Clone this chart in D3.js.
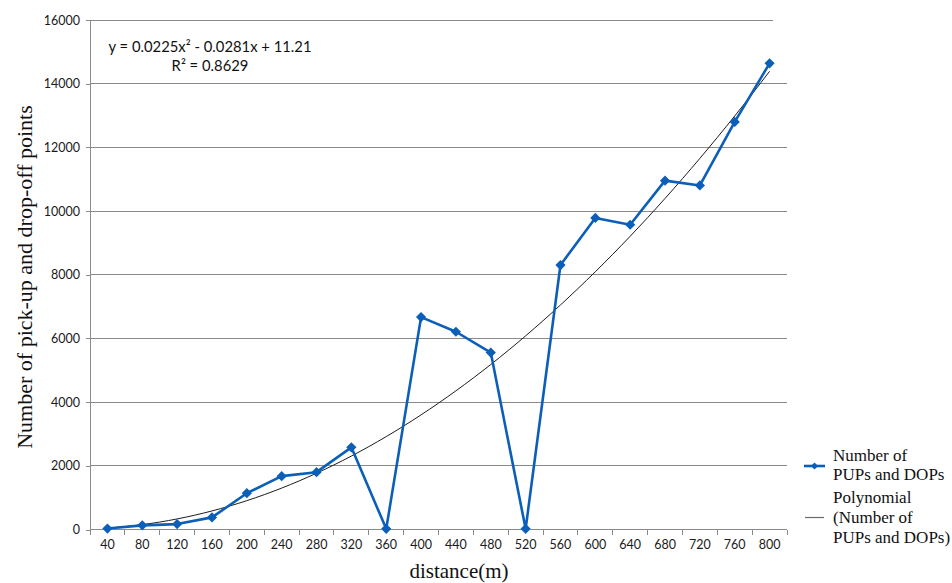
<!DOCTYPE html>
<html>
<head>
<meta charset="utf-8">
<script src="https://cdn.jsdelivr.net/npm/d3@7"></script>
<style>
  html, body { margin: 0; padding: 0; background: #fff; }
  svg { display: block; }
</style>
</head>
<body>
<svg id="chart" width="952" height="583"></svg>
<script>
// Distance bands (m) and number of pick-up / drop-off points per band
const distances = [40, 80, 120, 160, 200, 240, 280, 320, 360, 400, 440, 480, 520, 560, 600, 640, 680, 720, 760, 800];
const pupDopCounts = [30, 130, 170, 380, 1140, 1675, 1800, 2580, 20, 6670, 6210, 5555, 20, 8305, 9785, 9570, 10955, 10805, 12800, 14640];
// Second-order polynomial trend: y = c2*x^2 + c1*x + c0
const trendCoefficients = [11.21, -0.0281, 0.0225];
const yTicks = [0, 2000, 4000, 6000, 8000, 10000, 12000, 14000, 16000];
const equationLines = ["y = 0.0225x\u00B2 - 0.0281x + 11.21", "R\u00B2 = 0.8629"];

const svg = d3.select("#chart");
const margin = { left: 90, right: 165, top: 20, bottom: 53.5 };
const W = 952, H = 583;
const plotW = W - margin.left - margin.right;
const plotH = H - margin.top - margin.bottom;

const sansFont = "Lato, 'Open Sans', sans-serif";
const serifFont = "'Liberation Serif', 'DejaVu Serif', serif";
const blue = "#0b5fb8";
const gridColor = "#8a8a8a";

const x = d3.scaleBand().domain(distances).range([0, plotW]);
const y = d3.scaleLinear().domain([0, 16000]).range([plotH, 0]);

const g = svg.append("g").attr("transform", `translate(${margin.left},${margin.top})`);

// Horizontal gridlines (the top one stops a little short of the right edge)
g.append("g")
  .selectAll("line")
  .data(yTicks.filter(d => d > 0))
  .join("line")
  .attr("x1", 0).attr("x2", d => d === yTicks[yTicks.length - 1] ? plotW - x.bandwidth() * 0.4 : plotW)
  .attr("y1", d => y(d)).attr("y2", d => y(d))
  .attr("stroke", gridColor).attr("stroke-width", 1)
  .attr("shape-rendering", "crispEdges");

// Y axis
const yAxis = g.append("g")
  .call(d3.axisLeft(y).tickValues(yTicks).tickSize(4).tickPadding(6).tickFormat(d3.format("d")));
yAxis.select(".domain").attr("stroke", gridColor).attr("shape-rendering", "crispEdges");
yAxis.selectAll(".tick line").attr("stroke", gridColor).attr("shape-rendering", "crispEdges");
yAxis.selectAll("text").attr("font-family", sansFont).attr("font-size", 12.5).attr("fill", "#1a1a1a");

// X axis: category labels centred in bands, tick marks on band boundaries
const xAxisG = g.append("g").attr("transform", `translate(0,${plotH})`);
xAxisG.append("line")
  .attr("x1", 0).attr("x2", plotW).attr("y1", 0).attr("y2", 0)
  .attr("stroke", gridColor).attr("shape-rendering", "crispEdges");
const boundaries = distances.map(d => x(d)).concat([plotW]);
xAxisG.selectAll("line.tk")
  .data(boundaries)
  .join("line")
  .attr("class", "tk")
  .attr("x1", d => d).attr("x2", d => d)
  .attr("y1", 0).attr("y2", 5)
  .attr("stroke", gridColor).attr("shape-rendering", "crispEdges");
xAxisG.selectAll("text")
  .data(distances)
  .join("text")
  .attr("x", d => x(d) + x.bandwidth() / 2)
  .attr("y", 19)
  .attr("text-anchor", "middle")
  .attr("font-family", sansFont).attr("font-size", 12.5).attr("fill", "#1a1a1a")
  .text(d => d);

// Polynomial trendline, evaluated along the distance range
const trend = d => trendCoefficients[0] + trendCoefficients[1] * d + trendCoefficients[2] * d * d;
const cx = d => x(d) + x.bandwidth() / 2;
const trendPts = d3.range(distances[0], distances[distances.length - 1] + 0.1, 10);
const xLin = d3.scaleLinear()
  .domain([distances[0], distances[distances.length - 1]])
  .range([cx(distances[0]), cx(distances[distances.length - 1])]);
g.append("path")
  .datum(trendPts)
  .attr("fill", "none")
  .attr("stroke", "#1c1c1c")
  .attr("stroke-width", 1)
  .attr("d", d3.line().x(d => xLin(d)).y(d => y(trend(d))));

// Data series
const series = distances.map((d, i) => ({ d, v: pupDopCounts[i] }));
g.append("path")
  .datum(series)
  .attr("fill", "none")
  .attr("stroke", blue)
  .attr("stroke-width", 2.6)
  .attr("stroke-linejoin", "round")
  .attr("d", d3.line().x(p => cx(p.d)).y(p => y(p.v)));

// Square markers turned 45 degrees
const marker = d3.symbol().type(d3.symbolSquare).size(52);
g.selectAll("path.mk")
  .data(series)
  .join("path")
  .attr("class", "mk")
  .attr("transform", p => `translate(${cx(p.d)},${y(p.v)}) rotate(45)`)
  .attr("d", marker)
  .attr("fill", blue);

// Trend equation
const eq = g.append("text")
  .attr("font-family", sansFont).attr("font-size", 14.8).attr("fill", "#111")
  .attr("text-anchor", "middle");
eq.append("tspan").attr("x", 120).attr("y", 32).text(equationLines[0]);
eq.append("tspan").attr("x", 120).attr("y", 51).text(equationLines[1]);

// Axis titles
svg.append("text")
  .attr("transform", "translate(32,277) rotate(-90)")
  .attr("text-anchor", "middle")
  .attr("font-family", serifFont).attr("font-size", 22).attr("fill", "#111")
  .text("Number of pick-up and drop-off points");

svg.append("text")
  .attr("x", 459).attr("y", 578)
  .attr("text-anchor", "middle")
  .attr("font-family", serifFont).attr("font-size", 21).attr("fill", "#111")
  .text("distance(m)");

// Legend
const leg = svg.append("g");
leg.append("line").attr("x1", 804).attr("x2", 825).attr("y1", 466).attr("y2", 466)
  .attr("stroke", blue).attr("stroke-width", 2.6);
leg.append("path").attr("transform", "translate(814.5,466) rotate(45)")
  .attr("d", d3.symbol().type(d3.symbolSquare).size(26)).attr("fill", blue);
const legText1 = leg.append("text").attr("font-family", serifFont).attr("font-size", 17).attr("fill", "#111");
legText1.append("tspan").attr("x", 833).attr("y", 461).text("Number of");
legText1.append("tspan").attr("x", 833).attr("y", 480).text("PUPs and DOPs");

leg.append("line").attr("x1", 805).attr("x2", 824).attr("y1", 517.5).attr("y2", 517.5)
  .attr("stroke", "#6b6b6b").attr("stroke-width", 1.2);
const legText2 = leg.append("text").attr("font-family", serifFont).attr("font-size", 17).attr("fill", "#111");
legText2.append("tspan").attr("x", 833).attr("y", 503).text("Polynomial");
legText2.append("tspan").attr("x", 833).attr("y", 523).text("(Number of");
legText2.append("tspan").attr("x", 833).attr("y", 543).text("PUPs and DOPs)");
</script>
</body>
</html>
